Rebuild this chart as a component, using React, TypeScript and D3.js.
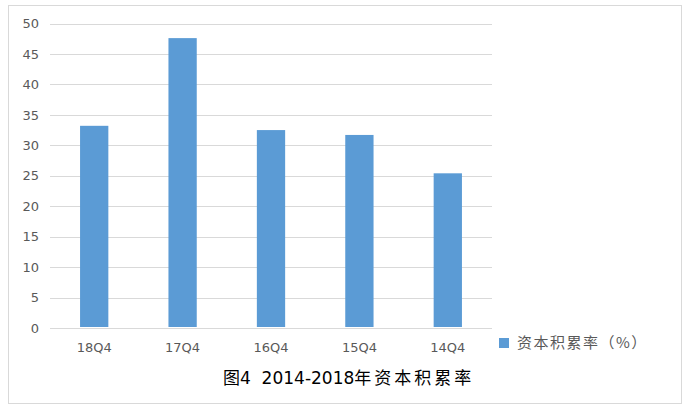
import * as d3 from "d3";
import { useEffect, useRef } from "react";

const categories = ["18Q4", "17Q4", "16Q4", "15Q4", "14Q4"];
const values = [33.2, 47.6, 32.5, 31.7, 25.4];
const yTicks = [0, 5, 10, 15, 20, 25, 30, 35, 40, 45, 50];
const seriesName = "资本积累率（%）";
const titleHead = "图4  2014-2018";
const titleTail = "年资本积累率";

const W = 691,
  H = 412;

const App = () => {
  const ref = useRef<SVGSVGElement>(null);

  useEffect(() => {
    const svg = d3.select(ref.current);
    svg.selectAll("*").remove();

    // outer frame
    svg
      .append("rect")
      .attr("x", 8.5)
      .attr("y", 5.5)
      .attr("width", 673)
      .attr("height", 398)
      .attr("fill", "#fff")
      .attr("stroke", "#d9d9d9");

    const left = 50,
      right = 492,
      top = 23.5,
      bottom = 328;

    const x = d3
      .scaleBand()
      .domain(categories)
      .range([left, right])
      .paddingInner(0.68)
      .paddingOuter(0.34);

    const y = d3.scaleLinear().domain([0, 50]).range([bottom, top]);

    // gridlines
    svg
      .append("g")
      .attr("transform", `translate(${left},0)`)
      .call(
        d3
          .axisLeft(y)
          .tickValues(yTicks)
          .tickSize(-(right - left))
          .tickFormat("" as any)
      )
      .call((g) => g.select(".domain").remove())
      .selectAll("line")
      .attr("stroke", "#d9d9d9")
      .attr("shape-rendering", "crispEdges");

    // y labels
    svg
      .append("g")
      .selectAll("text")
      .data(yTicks)
      .enter()
      .append("text")
      .attr("x", 39)
      .attr("y", (d) => y(d))
      .attr("dy", "0.36em")
      .attr("text-anchor", "end")
      .attr("fill", "#595959")
      .style("font", "13px 'DejaVu Sans', sans-serif")
      .text((d) => d);

    // bars
    svg
      .selectAll(".bar")
      .data(values)
      .enter()
      .append("rect")
      .attr("class", "bar")
      .attr("x", (_, i) => x(categories[i])!)
      .attr("y", (d) => y(d))
      .attr("width", x.bandwidth())
      .attr("height", (d) => y(0) - 1 - y(d))
      .attr("fill", "#5b9bd5");

    // x labels
    svg
      .append("g")
      .selectAll("text")
      .data(categories)
      .enter()
      .append("text")
      .attr("x", (d) => x(d)! + x.bandwidth() / 2)
      .attr("y", 347)
      .attr("dy", "0.36em")
      .attr("text-anchor", "middle")
      .attr("fill", "#595959")
      .style("font", "13px 'DejaVu Sans', sans-serif")
      .text((d) => d);

    // legend
    const lg = svg.append("g").attr("transform", "translate(499,338)");
    lg.append("rect").attr("width", 10).attr("height", 10).attr("fill", "#5b9bd5");
    lg.append("text")
      .attr("x", 18)
      .attr("y", 5)
      .attr("dy", "0.36em")
      .attr("fill", "#595959")
      .style("font", "15px 'Noto Sans CJK SC', sans-serif")
      .style("letter-spacing", "1.5px")
      .text(seriesName);

    // title
    const t = svg
      .append("text")
      .attr("x", 223)
      .attr("y", 378)
      .attr("dy", "0.36em")
      .attr("fill", "#000")
      .style("white-space", "pre")
      .style("font", "17px 'DejaVu Sans', 'Noto Sans CJK SC', sans-serif");
    t.append("tspan").text(titleHead);
    t.append("tspan")
      .style("letter-spacing", "3px")
      .style("font-family", "'Noto Sans CJK SC', sans-serif")
      .text(titleTail);
  }, []);

  return (
    <svg
      ref={ref}
      width={W}
      height={H}
      style={{ position: "absolute", left: 0, top: 0, background: "#fff" }}
    />
  );
};

export default App;
